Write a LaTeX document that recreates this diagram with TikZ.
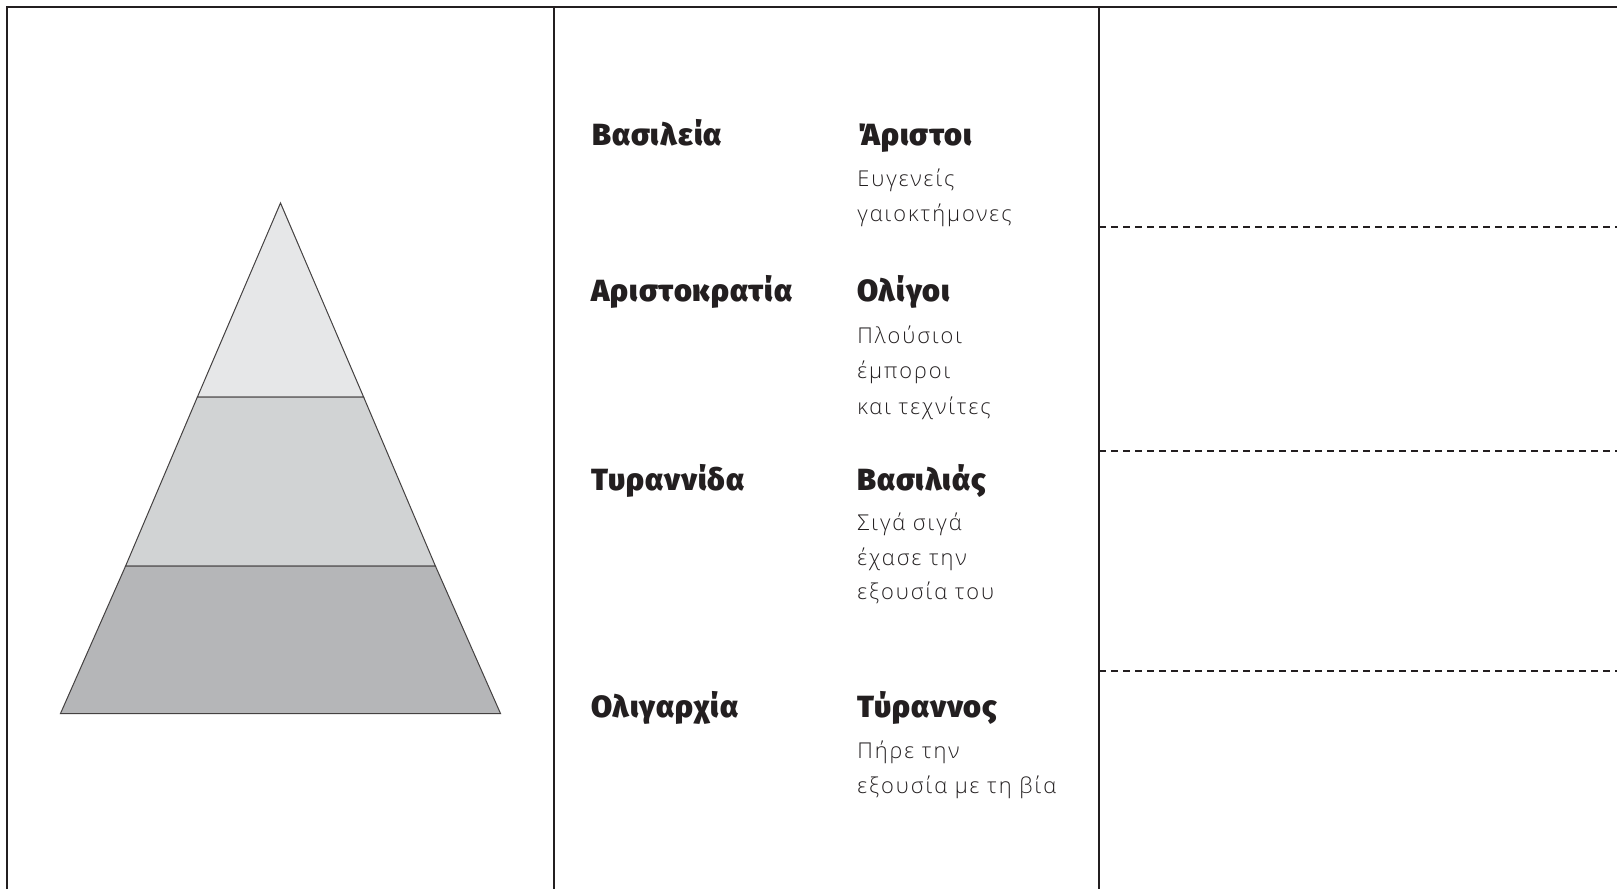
\documentclass[tikz,border=0pt]{standalone}
\usepackage{fontspec}
\newfontfamily\headfont{Fira Sans Black}[LetterSpace=3]
\newfontfamily\bodyfont{Open Sans Light}[LetterSpace=9]
\definecolor{ink}{HTML}{231F20}
\definecolor{tierA}{HTML}{E6E7E8}
\definecolor{tierB}{HTML}{D1D3D4}
\definecolor{tierC}{HTML}{B5B6B8}
\tikzset{
  frame/.style={draw=ink, line width=1.25pt},
  guide/.style={draw=ink, line width=1pt, dash pattern=on 3.5pt off 2.5pt},
  tier/.style={draw=ink!85, line width=0.5pt},
  head/.style={anchor=base west, inner sep=0pt, font=\headfont\fontsize{15.3}{18}\selectfont, text=ink},
  body/.style={anchor=base west, inner sep=0pt, font=\bodyfont\fontsize{10.9}{13}\selectfont, text=ink}
}
\begin{document}
\begin{tikzpicture}[x=0.5pt,y=-0.5pt]
\useasboundingbox (0,0) rectangle (1617,889);
\fill[white] (0,0) rectangle (1617,889);
% pyramid
\coordinate (apex) at (280.5,203);
\coordinate (bl) at (60.5,713.5);
\coordinate (br) at (500.5,713.5);
\coordinate (l1) at (197.4,397);
\coordinate (r1) at (363.6,397);
\coordinate (l2) at (125.6,566);
\coordinate (r2) at (435.4,566);
\path[tier, fill=tierA] (apex) -- (r1) -- (l1) -- cycle;
\path[tier, fill=tierB] (l1) -- (r1) -- (r2) -- (l2) -- cycle;
\path[tier, fill=tierC] (l2) -- (r2) -- (br) -- (bl) -- cycle;
% frame
\coordinate (tl) at (7,7);
\coordinate (tr) at (1617,7);
\coordinate (blc) at (7,889);
\coordinate (v1t) at (554,7);
\coordinate (v1b) at (554,889);
\coordinate (v2t) at (1099,7);
\coordinate (v2b) at (1099,889);
\draw[frame] (blc) -- (tl) -- (tr);
\draw[frame] (v1t) -- (v1b);
\draw[frame] (v2t) -- (v2b);
% dashed guides
\foreach \yy/\nm in {227/a,451/b,671/c}{
  \coordinate (g\nm s) at (1099,\yy);
  \coordinate (g\nm e) at (1617,\yy);
  \draw[guide] (g\nm s) -- (g\nm e);
}
% column 1
\node[head] (c1a) at (592,145) {Βασιλεία};
\node[head] (c1b) at (591,301) {Αριστοκρατία};
\node[head] (c1c) at (591,490) {Τυραννίδα};
\node[head] (c1d) at (591,717) {Ολιγαρχία};
% column 2
\node[head] (c2a) at (857,145) {Άριστοι};
\node[body] (c2a1) at (857,186) {Ευγενείς};
\node[body] (c2a2) at (857,221) {γαιοκτήμονες};
\node[head] (c2b) at (857,301) {Ολίγοι};
\node[body] (c2b1) at (857,343) {Πλούσιοι};
\node[body] (c2b2) at (857,378.5) {έμποροι};
\node[body] (c2b3) at (857,414) {και τεχνίτες};
\node[head] (c2c) at (857,490) {Βασιλιάς};
\node[body] (c2c1) at (857,530) {Σιγά σιγά};
\node[body] (c2c2) at (857,565) {έχασε την};
\node[body] (c2c3) at (857,599.5) {εξουσία του};
\node[head] (c2d) at (857,717) {Τύραννος};
\node[body] (c2d1) at (857,758) {Πήρε την};
\node[body] (c2d2) at (857,793) {εξουσία με τη βία};
\end{tikzpicture}
\end{document}
